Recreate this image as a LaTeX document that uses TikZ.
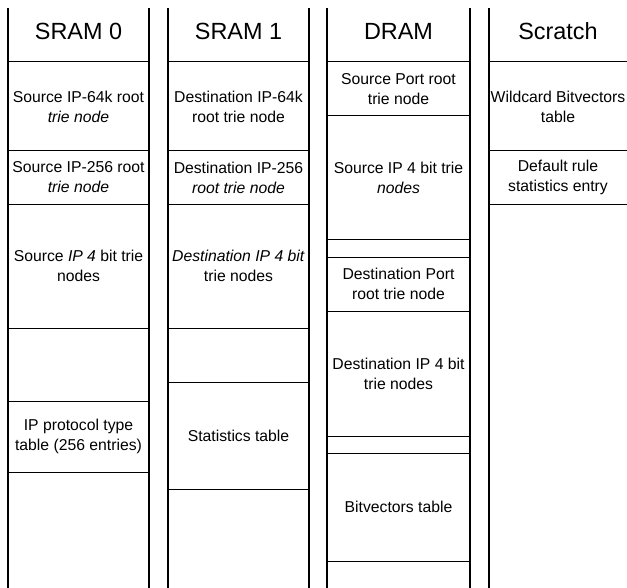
\documentclass[tikz,border=0pt]{standalone}
\usepackage{fontspec}
\setmainfont{Liberation Sans}
\begin{document}
\begin{tikzpicture}[x=1bp,y=-1bp,
  colline/.style={line width=2bp},
  divider/.style={line width=1bp},
  head/.style={font=\fontsize{23.5}{28}\selectfont, inner sep=0pt},
  cell/.style={font=\fontsize{15.8}{20}\selectfont, align=center, inner sep=0pt}]
\useasboundingbox (0,0) rectangle (627,588);

% column walls
\foreach \x in {8,149,168,309,327,470,489}
  \draw[colline] (\x,8) -- (\x,588);

% row dividers, one list per memory column
\foreach \y in {62,151,204,328,401,472}
  \draw[divider] (8,\y) -- (149,\y);
\foreach \y in {62,151,204,328,382,489}
  \draw[divider] (168,\y) -- (309,\y);
\foreach \y in {62,116,239,257,311,436,453,561}
  \draw[divider] (327,\y) -- (470,\y);
\foreach \y in {62,151,204}
  \draw[divider] (489,\y) -- (627,\y);

% column headings
\node[head] (h0) at (78.5,31) {SRAM 0};
\node[head] (h1) at (238.5,31) {SRAM 1};
\node[head] (h2) at (398.5,31) {DRAM};
\node[head] (h3) at (558,31) {Scratch};

% SRAM 0
\node[cell] (s0a) at (78.5,106.5) {Source IP-64k root\\\textit{trie node}};
\node[cell] (s0b) at (78.5,177.5) {Source IP-256 root\\\textit{trie node}};
\node[cell] (s0c) at (78.5,266) {Source \textit{IP 4} bit trie\\nodes};
\node[cell] (s0d) at (78.5,436.5) {IP protocol type\\table (256 entries)};

% SRAM 1
\node[cell] (s1a) at (238.5,106.5) {Destination IP-64k\\root trie node};
\node[cell] (s1b) at (238.5,177.5) {Destination IP-256\\\textit{root trie node}};
\node[cell] (s1c) at (238.5,266) {\textit{Destination IP 4 bit}\\trie nodes};
\node[cell] (s1d) at (238.5,435.5) {Statistics table};

% DRAM
\node[cell] (d0) at (398.5,89) {Source Port root\\trie node};
\node[cell] (d1) at (398.5,177.5) {Source IP 4 bit trie\\\textit{nodes}};
\node[cell] (d2) at (398.5,284) {Destination Port\\root trie node};
\node[cell] (d3) at (398.5,373.5) {Destination IP 4 bit\\trie nodes};
\node[cell] (d4) at (398.5,507) {Bitvectors table};

% Scratch
\node[cell] (x0) at (558,106.5) {Wildcard Bitvectors\\table};
\node[cell] (x1) at (558,177.5) {Default rule\\statistics entry};
\end{tikzpicture}
\end{document}
